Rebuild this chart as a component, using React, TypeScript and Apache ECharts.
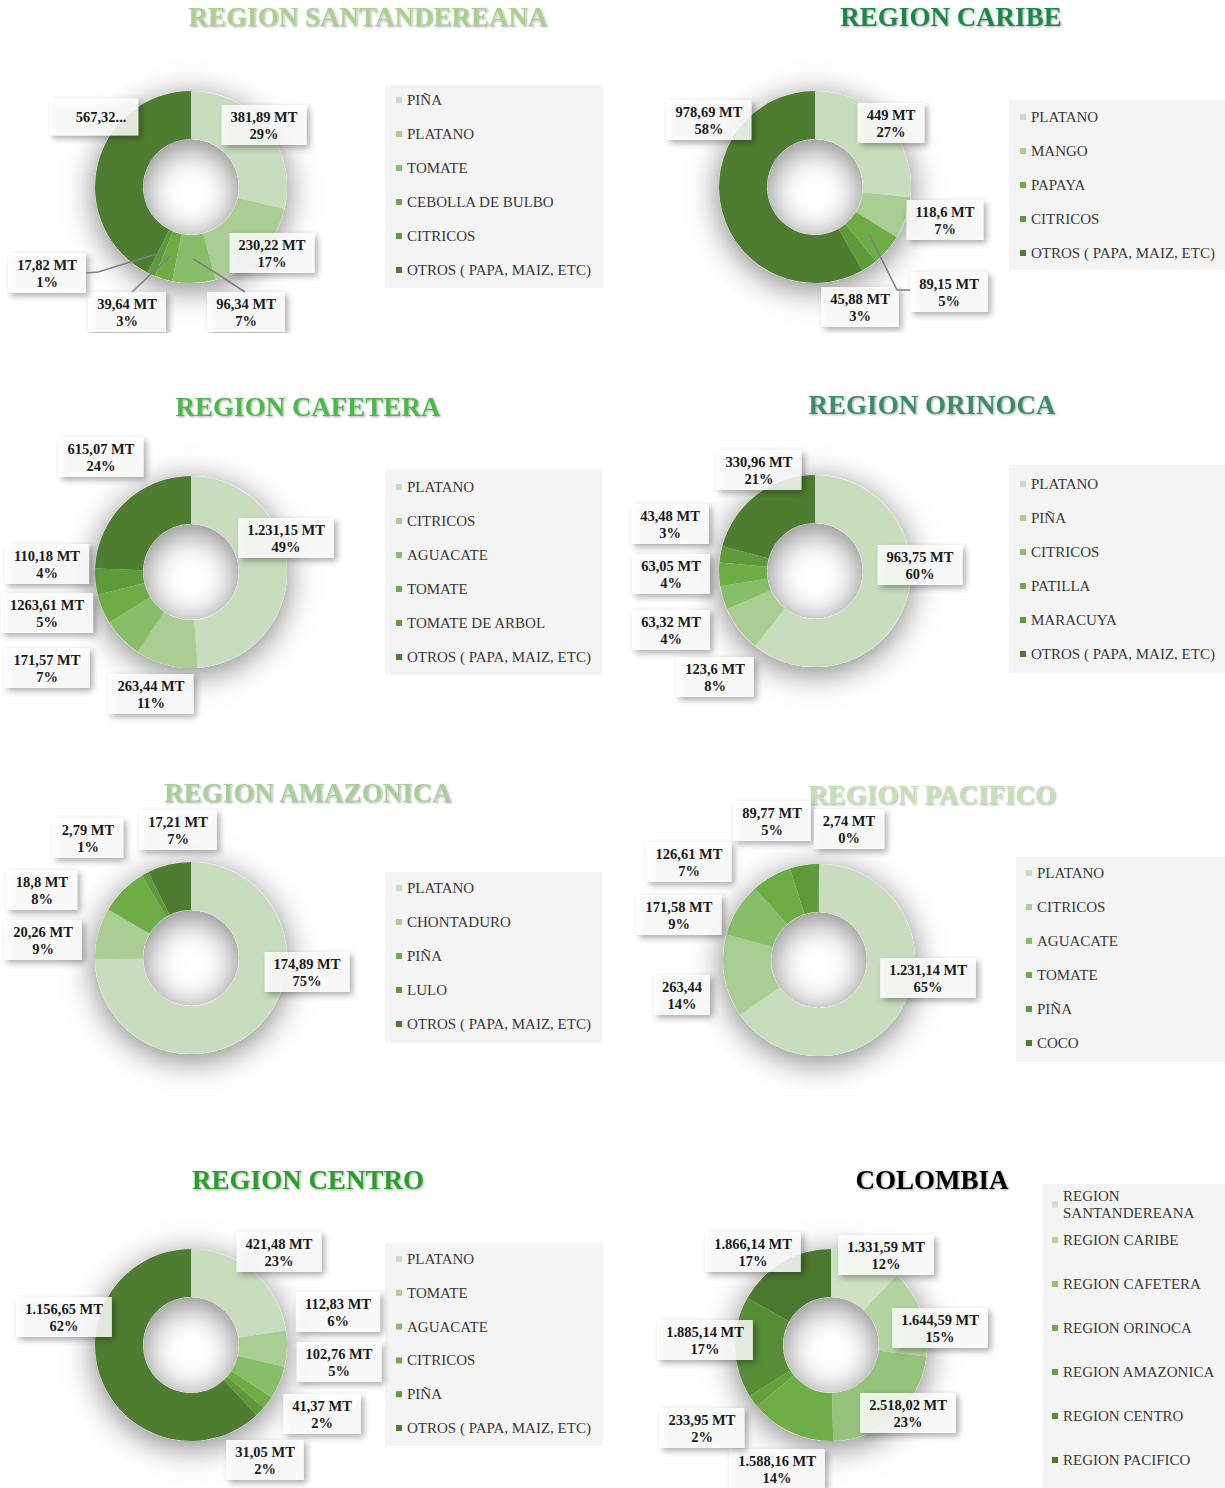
import React, { useEffect, useRef } from 'react';
import * as echarts from 'echarts';

const FONT = '"Liberation Serif", "Times New Roman", serif';

// ---------- DATA ----------
const SANT_NAMES = ['PIÑA', 'PLATANO', 'TOMATE', 'CEBOLLA DE BULBO', 'CITRICOS', 'OTROS ( PAPA, MAIZ, ETC)'];
const SANT_VALUES = [381.89, 230.22, 96.34, 39.64, 17.82, 567.32];
const SANT_LABELS = ['381,89 MT\n29%', '230,22 MT\n17%', '96,34 MT\n7%', '39,64 MT\n3%', '17,82 MT\n1%', '567,32...'];

const CARIBE_NAMES = ['PLATANO', 'MANGO', 'PAPAYA', 'CITRICOS', 'OTROS ( PAPA, MAIZ, ETC)'];
const CARIBE_VALUES = [449, 118.6, 89.15, 45.88, 978.69];
const CARIBE_LABELS = ['449 MT\n27%', '118,6 MT\n7%', '89,15 MT\n5%', '45,88 MT\n3%', '978,69 MT\n58%'];

const CAFETERA_NAMES = ['PLATANO', 'CITRICOS', 'AGUACATE', 'TOMATE', 'TOMATE DE ARBOL', 'OTROS ( PAPA, MAIZ, ETC)'];
const CAFETERA_VALUES = [1231.15, 263.44, 171.57, 126.61, 110.18, 615.07];
const CAFETERA_LABELS = ['1.231,15 MT\n49%', '263,44 MT\n11%', '171,57 MT\n7%', '1263,61 MT\n5%', '110,18 MT\n4%', '615,07 MT\n24%'];

const ORINOCA_NAMES = ['PLATANO', 'PIÑA', 'CITRICOS', 'PATILLA', 'MARACUYA', 'OTROS ( PAPA, MAIZ, ETC)'];
const ORINOCA_VALUES = [963.75, 123.6, 63.32, 63.05, 43.48, 330.96];
const ORINOCA_LABELS = ['963,75 MT\n60%', '123,6 MT\n8%', '63,32 MT\n4%', '63,05 MT\n4%', '43,48 MT\n3%', '330,96 MT\n21%'];

const AMAZONICA_NAMES = ['PLATANO', 'CHONTADURO', 'PIÑA', 'LULO', 'OTROS ( PAPA, MAIZ, ETC)'];
const AMAZONICA_VALUES = [174.89, 20.26, 18.8, 2.79, 17.21];
const AMAZONICA_LABELS = ['174,89 MT\n75%', '20,26 MT\n9%', '18,8 MT\n8%', '2,79 MT\n1%', '17,21 MT\n7%'];

const PACIFICO_NAMES = ['PLATANO', 'CITRICOS', 'AGUACATE', 'TOMATE', 'PIÑA', 'COCO'];
const PACIFICO_VALUES = [1231.14, 263.44, 171.58, 126.61, 89.77, 2.74];
const PACIFICO_LABELS = ['1.231,14 MT\n65%', '263,44\n14%', '171,58 MT\n9%', '126,61 MT\n7%', '89,77 MT\n5%', '2,74 MT\n0%'];

const CENTRO_NAMES = ['PLATANO', 'TOMATE', 'AGUACATE', 'CITRICOS', 'PIÑA', 'OTROS ( PAPA, MAIZ, ETC)'];
const CENTRO_VALUES = [421.48, 112.83, 102.76, 41.37, 31.05, 1156.65];
const CENTRO_LABELS = ['421,48 MT\n23%', '112,83 MT\n6%', '102,76 MT\n5%', '41,37 MT\n2%', '31,05 MT\n2%', '1.156,65 MT\n62%'];

const COLOMBIA_NAMES = ['REGION SANTANDEREANA', 'REGION CARIBE', 'REGION CAFETERA', 'REGION ORINOCA', 'REGION AMAZONICA', 'REGION CENTRO', 'REGION PACIFICO'];
const COLOMBIA_VALUES = [1331.59, 1644.59, 2518.02, 1588.16, 233.95, 1885.14, 1866.14];
const COLOMBIA_LABELS = ['1.331,59 MT\n12%', '1.644,59 MT\n15%', '2.518,02 MT\n23%', '1.588,16 MT\n14%', '233,95 MT\n2%', '1.885,14 MT\n17%', '1.866,14 MT\n17%'];

// ---------- STYLE / LAYOUT ----------
const PAL6 = ['#c8ddbd', '#a9cd93', '#88bd6a', '#6eac45', '#5e9a3a', '#4e7d31'];
const PAL5 = ['#c8ddbd', '#a9cd93', '#6eac45', '#5e9a3a', '#4e7d31'];
const PAL7 = ['#cde1c3', '#b3d3a0', '#95c37b', '#6fad46', '#64a03e', '#578d36', '#4a782e'];

const R_IN = 48;
const R_OUT = 96;
const R_LEADER = 72;

type Def = {
  left: number; top: number; width: number; height: number;
  title: string; titleColor: string; titleX: number; titleY: number;
  center: [number, number];
  names: string[]; values: number[]; labels: string[]; colors: string[];
  labelPos: number[][];
  leaders: Record<number, number[][]>; // elbow + end points, relative to the centre
  box: number[]; legendX: number; legendY: number; step: number;
  labelPad?: Record<number, number[]>;
  splitFirst?: { y: number };
};

const DEFS: Def[] = [
  {
    left: 0, top: 0, width: 612, height: 333,
    title: 'REGION SANTANDEREANA', titleColor: '#a9d18e', titleX: 368, titleY: 17,
    center: [191, 187], names: SANT_NAMES, values: SANT_VALUES, labels: SANT_LABELS, colors: PAL6,
    labelPos: [[73, -62], [81, 66], [55, 125], [-64, 125], [-144, 86], [-97, -70]],
    leaders: {
      2: [[28, 88], [54, 105]],
      3: [[-40, 87], [-59, 105]],
      4: [[-93, 85], [-105, 86]],
    },
    box: [385, 85, 218, 203], legendX: 396, legendY: 91.5, step: 34,
    labelPad: { 5: [10, 12, 10, 26] },
  },
  {
    left: 612, top: 0, width: 613, height: 333,
    title: 'REGION CARIBE', titleColor: '#1c874a', titleX: 339, titleY: 17,
    center: [203, 187], names: CARIBE_NAMES, values: CARIBE_VALUES, labels: CARIBE_LABELS, colors: PAL5,
    labelPos: [[76, -64], [130, 33], [134, 105], [45, 120], [-106, -67]],
    leaders: { 2: [[82, 103], [95, 103]] },
    box: [397, 100, 216, 170], legendX: 408, legendY: 108.5, step: 34,
  },
  {
    left: 0, top: 380, width: 612, height: 345,
    title: 'REGION CAFETERA', titleColor: '#4cb848', titleX: 308, titleY: 27,
    center: [191, 192], names: CAFETERA_NAMES, values: CAFETERA_VALUES, labels: CAFETERA_LABELS, colors: PAL6,
    labelPos: [[95, -34], [-40, 122], [-144, 96], [-144, 41], [-144, -8], [-90, -115]], leaders: {},
    box: [385, 90, 217, 205], legendX: 396, legendY: 98.5, step: 34,
  },
  {
    left: 612, top: 380, width: 613, height: 345,
    title: 'REGION ORINOCA', titleColor: '#3c8c68', titleX: 320, titleY: 25,
    center: [203, 191], names: ORINOCA_NAMES, values: ORINOCA_VALUES, labels: ORINOCA_LABELS, colors: PAL6,
    labelPos: [[105, -6], [-100, 106], [-144, 59], [-144, 3], [-145, -47], [-56, -101]], leaders: {},
    box: [397, 85, 216, 208], legendX: 408, legendY: 95.5, step: 34,
  },
  {
    left: 0, top: 770, width: 612, height: 320,
    title: 'REGION AMAZONICA', titleColor: '#a6cf98', titleX: 308, titleY: 23,
    center: [191, 188], names: AMAZONICA_NAMES, values: AMAZONICA_VALUES, labels: AMAZONICA_LABELS, colors: PAL5,
    labelPos: [[116, 14], [-148, -18], [-149, -68], [-103, -120], [-13, -128]], leaders: {},
    box: [385, 102, 217, 171], legendX: 396, legendY: 109.5, step: 34,
  },
  {
    left: 612, top: 770, width: 613, height: 320,
    title: 'REGION PACIFICO', titleColor: '#c5e0b4', titleX: 320, titleY: 25,
    center: [207, 190], names: PACIFICO_NAMES, values: PACIFICO_VALUES, labels: PACIFICO_LABELS, colors: PAL6,
    labelPos: [[109, 18], [-137, 35], [-140, -45], [-130, -98], [-47, -139], [30, -131]], leaders: {},
    box: [404, 87, 209, 205], legendX: 414, legendY: 94.5, step: 34,
    labelPad: { 1: [3, 8] },
  },
  {
    left: 0, top: 1140, width: 612, height: 348,
    title: 'REGION CENTRO', titleColor: '#2a9d2a', titleX: 308, titleY: 40,
    center: [191, 205], names: CENTRO_NAMES, values: CENTRO_VALUES, labels: CENTRO_LABELS, colors: PAL6,
    labelPos: [[88, -93], [147, -33], [148, 17], [131, 69], [74, 115], [-127, -28]], leaders: {},
    box: [385, 103, 218, 203], legendX: 396, legendY: 110.5, step: 33.8,
  },
  {
    left: 612, top: 1140, width: 613, height: 348,
    title: 'COLOMBIA', titleColor: '#000000', titleX: 320, titleY: 40,
    center: [219, 205], names: COLOMBIA_NAMES, values: COLOMBIA_VALUES, labels: COLOMBIA_LABELS, colors: PAL7,
    labelPos: [[55, -90], [109, -17], [77, 68], [-54, 124], [-129, 83], [-126, -5], [-78, -93]], leaders: {},
    box: [431, 44, 182, 304], legendX: 440, legendY: 91.5, step: 44,
    splitFirst: { y: 47.5 },
  },
];

function buildOption(d: Def) {
  const [cx, cy] = d.center;
  const total = d.values.reduce((a, b) => a + b, 0);
  const legendText = { fontFamily: FONT, fontSize: 15, color: '#383838', lineHeight: 17 };
  const legendBase = {
    orient: 'vertical', left: d.legendX, padding: 0, itemWidth: 6, itemHeight: 6, icon: 'rect',
    selectedMode: false, textStyle: legendText,
  };
  const legends: any[] = [];
  if (d.splitFirst) {
    legends.push({
      ...legendBase, top: d.splitFirst.y, data: [d.names[0]],
      formatter: (n: string) => n.replace(' ', '\n'),
    });
    legends.push({ ...legendBase, top: d.legendY, itemGap: d.step - 17, data: d.names.slice(1) });
  } else {
    legends.push({ ...legendBase, top: d.legendY, itemGap: d.step - 17, data: d.names });
  }

  const data = d.names.map((n, i) => {
    const item: any = { name: n, value: d.values[i], itemStyle: { color: d.colors[i] } };
    if (d.labelPad && d.labelPad[i]) item.label = { padding: d.labelPad[i] };
    return item;
  });

  // leader lines: start inside the slice at its mid angle (from the data), bend to the label box
  const leaderGraphics = Object.keys(d.leaders).map((k) => {
    const i = Number(k);
    const before = d.values.slice(0, i).reduce((a, b) => a + b, 0);
    const ang = ((before + d.values[i] / 2) / total) * Math.PI * 2;
    const start = [cx + R_LEADER * Math.sin(ang), cy - R_LEADER * Math.cos(ang)];
    return {
      type: 'polyline', silent: true, z: 50,
      shape: { points: [start, ...d.leaders[i].map((b) => [cx + b[0], cy + b[1]])] },
      style: { stroke: '#7f7f7f', lineWidth: 1.5, fill: 'none' },
    };
  });

  return {
    animation: false,
    title: {
      text: d.title, left: d.titleX, top: d.titleY, padding: 0, z: 0,
      textAlign: 'center', textVerticalAlign: 'middle',
      textStyle: {
        fontFamily: FONT, fontSize: 27, fontWeight: 'bold', color: d.titleColor,
        textShadowColor: 'rgba(0,0,0,0.35)', textShadowBlur: 2, textShadowOffsetX: 1, textShadowOffsetY: 1,
      },
    },
    graphic: [
      {
        type: 'rect', silent: true, z: -10,
        shape: { x: d.box[0], y: d.box[1], width: d.box[2], height: d.box[3] },
        style: { fill: '#f4f4f4' },
      },
      ...leaderGraphics,
    ],
    legend: legends,
    series: [
      {
        type: 'pie', name: 'ring-shadow', silent: true, radius: [R_IN, R_OUT], center: [cx, cy],
        label: { show: false }, labelLine: { show: false }, emphasis: { disabled: true },
        itemStyle: { color: '#ffffff', shadowBlur: 32, shadowColor: 'rgba(0,0,0,0.5)', shadowOffsetY: 6 },
        data: [{ value: 1, name: '__ring' }],
      },
      {
        type: 'pie', name: d.title, radius: [R_IN, R_OUT], center: [cx, cy], startAngle: 90, clockwise: true,
        avoidLabelOverlap: false, emphasis: { disabled: true },
        label: {
          show: true, position: 'outside',
          formatter: (p: any) => d.labels[p.dataIndex],
          fontFamily: FONT, fontSize: 14.5, fontWeight: 'bold', color: '#1a1a1a', lineHeight: 17,
          align: 'center', backgroundColor: 'rgba(255,255,255,0.82)', padding: [3, 9],
          shadowColor: 'rgba(0,0,0,0.4)', shadowBlur: 6, shadowOffsetX: 3, shadowOffsetY: 3,
        },
        labelLine: { show: false },
        labelLayout: (params: any) => {
          const pos = d.labelPos[params.dataIndex];
          return { x: cx + pos[0], y: cy + pos[1], align: 'center', verticalAlign: 'middle' };
        },
        data,
      },
    ],
  };
}

function Panel({ def }: { def: Def }) {
  const ref = useRef<HTMLDivElement>(null);
  useEffect(() => {
    const chart = echarts.init(ref.current as HTMLDivElement, undefined, { renderer: 'svg' });
    chart.setOption(buildOption(def) as any);
    return () => chart.dispose();
  }, [def]);
  return (
    <div
      ref={ref}
      style={{ position: 'absolute', left: def.left, top: def.top, width: def.width, height: def.height }}
    />
  );
}

export default function App() {
  return (
    <div style={{ position: 'absolute', left: 0, top: 0, width: 1225, height: 1488, background: '#ffffff', overflow: 'hidden' }}>
      {DEFS.map((d) => (
        <Panel key={d.title} def={d} />
      ))}
    </div>
  );
}
